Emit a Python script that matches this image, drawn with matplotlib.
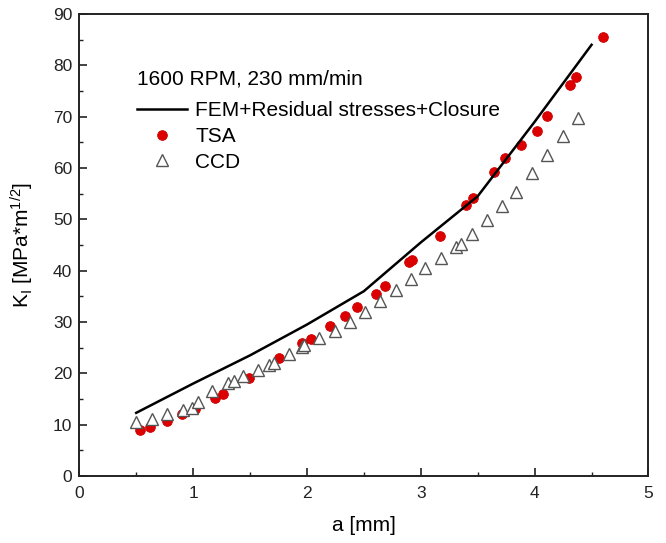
import matplotlib
matplotlib.use("Agg")
import matplotlib.pyplot as plt
from matplotlib.ticker import MultipleLocator

plt.rcParams['font.family'] = ['Liberation Sans', 'DejaVu Sans']
plt.rcParams['mathtext.fontset'] = 'custom'
plt.rcParams['mathtext.rm'] = 'Liberation Sans'
plt.rcParams['mathtext.it'] = 'Liberation Sans:italic'

# FEM + residual stresses + closure (line)
fem_a = [0.5, 1.0, 1.5, 2.0, 2.5, 3.0, 3.5, 4.0, 4.5]
fem_k = [12.3, 18.0, 23.5, 29.5, 36.0, 45.5, 54.5, 69.0, 84.0]

# TSA (red circles)
tsa_a = [0.53, 0.62, 0.77, 0.905, 1.02, 1.19, 1.26, 1.49, 1.755, 1.96, 2.04,
         2.20, 2.33, 2.44, 2.61, 2.69, 2.90, 2.92, 3.17, 3.40, 3.46, 3.64,
         3.74, 3.88, 4.02, 4.11, 4.31, 4.36, 4.60]
tsa_k = [9.0, 9.6, 10.8, 12.1, 13.1, 15.1, 16.0, 19.0, 22.9, 25.9, 26.7,
         29.3, 31.2, 33.0, 35.4, 37.0, 41.7, 42.1, 46.8, 52.7, 54.2, 59.2,
         61.9, 64.4, 67.3, 70.1, 76.2, 77.7, 85.6]

# CCD (open triangles)
ccd_a = [0.50, 0.64, 0.77, 0.91, 0.99, 1.04, 1.17, 1.31, 1.36, 1.44, 1.57,
         1.67, 1.71, 1.84, 1.96, 1.975, 2.11, 2.25, 2.38, 2.51, 2.64, 2.78,
         2.91, 3.04, 3.18, 3.31, 3.35, 3.45, 3.58, 3.71, 3.84, 3.975, 4.11,
         4.25, 4.38]
ccd_k = [10.5, 11.2, 12.1, 12.9, 13.3, 14.4, 16.6, 18.1, 18.5, 19.5, 20.7,
         21.6, 22.1, 23.8, 25.2, 25.5, 26.8, 28.3, 30.0, 31.9, 34.1, 36.2,
         38.3, 40.5, 42.5, 44.7, 45.2, 47.1, 49.9, 52.6, 55.3, 59.0, 62.5,
         66.2, 69.8]

legend_title = "1600 RPM, 230 mm/min"
labels = ["FEM+Residual stresses+Closure", "TSA", "CCD"]

fig = plt.figure(figsize=(6.66, 5.43), dpi=100)
ax = fig.add_axes([0.119, 0.1234, 0.8547, 0.8508])

ax.plot(fem_a, fem_k, color='black', lw=1.8, zorder=4, label=labels[0])
ax.plot(tsa_a, tsa_k, 'o', ls='none', ms=7, mfc='#dd0000', mec='#cc0000',
        mew=0.6, zorder=2, label=labels[1])
ax.plot(ccd_a, ccd_k, '^', ls='none', ms=8, mfc='white', mec='#555555',
        mew=1.0, zorder=3, label=labels[2])

ax.set_xlim(0, 5)
ax.set_ylim(0, 90)
ax.xaxis.set_major_locator(MultipleLocator(1))
ax.xaxis.set_minor_locator(MultipleLocator(0.5))
ax.yaxis.set_major_locator(MultipleLocator(10))
ax.yaxis.set_minor_locator(MultipleLocator(5))

ax.tick_params(which='both', direction='in', top=False, right=False,
               colors='#222222', labelsize=12.5)
ax.tick_params(which='major', length=6, width=1.2)
ax.tick_params(which='minor', length=3, width=1.0)
ax.tick_params(axis='x', which='major', pad=7)
ax.tick_params(axis='y', which='major', pad=5)
for s in ax.spines.values():
    s.set_linewidth(1.4)
    s.set_color('#222222')

ax.set_xlabel("a [mm]", fontsize=15, labelpad=11)
ax.set_ylabel(r"K$_\mathrm{I}$ [MPa*m$^{\mathrm{1/2}}$]", fontsize=15, labelpad=12)

leg = ax.legend(title=legend_title, loc='upper left',
                bbox_to_anchor=(0.101, 0.879), frameon=False, fontsize=15,
                title_fontsize=15, alignment='left', handlelength=2.4,
                handletextpad=0.4, labelspacing=0.32, borderpad=0,
                borderaxespad=0)
leg._legend_box.sep = 9

fig.savefig("out.png", dpi=100)
